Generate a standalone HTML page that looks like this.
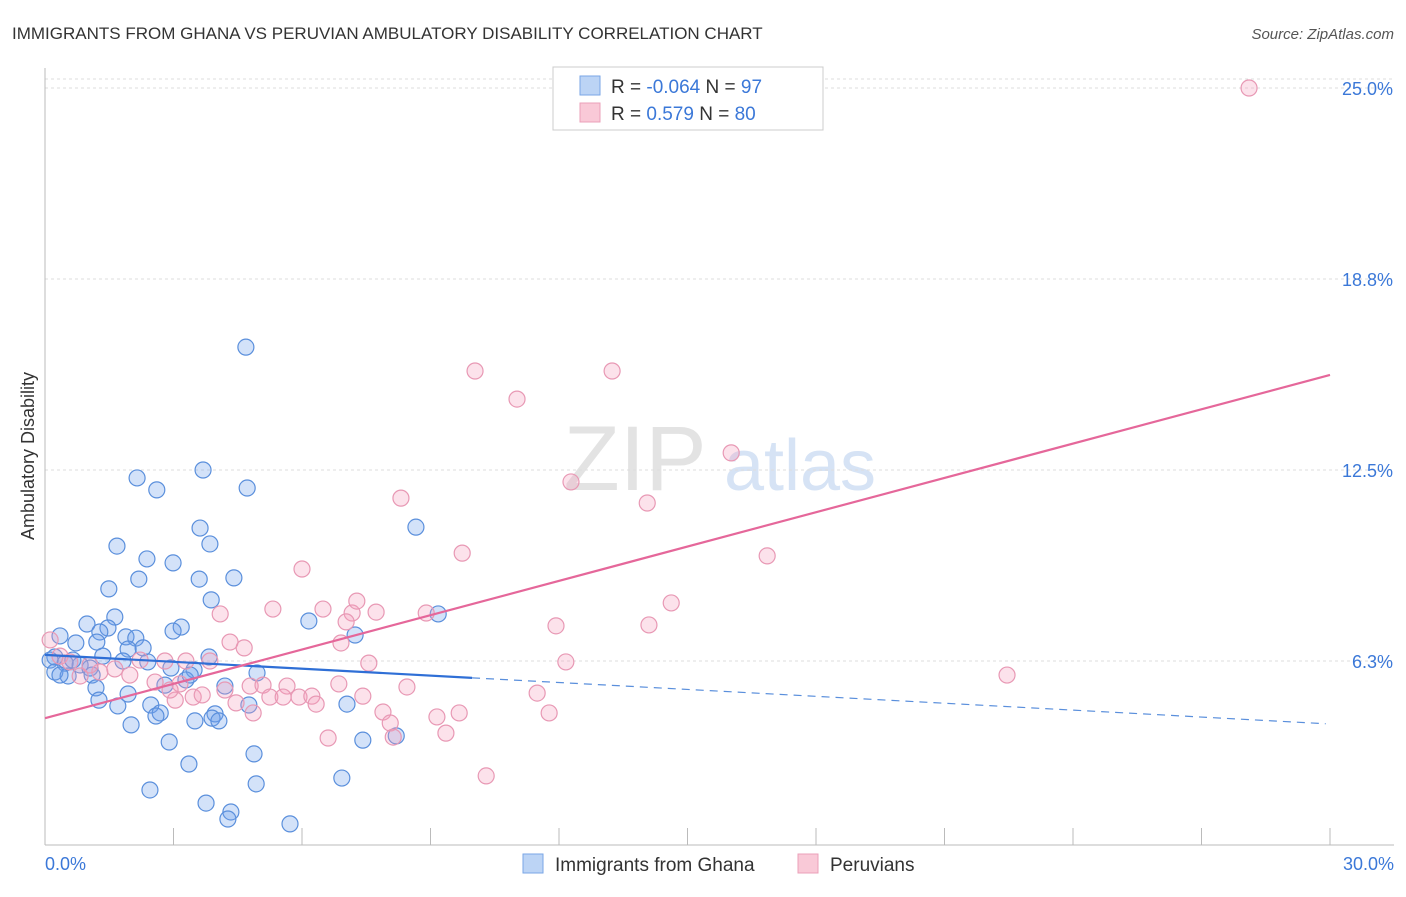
<!DOCTYPE html>
<html><head><meta charset="utf-8"><style>
body{margin:0;background:#fff;font-family:"Liberation Sans",sans-serif;}
svg text{font-family:"Liberation Sans",sans-serif;}
</style></head><body>
<svg id="chart" width="1406" height="892">
<text x="12" y="39" font-size="17" fill="#333">IMMIGRANTS FROM GHANA VS PERUVIAN AMBULATORY DISABILITY CORRELATION CHART</text>
<text x="1394" y="39" font-size="15" fill="#555" font-style="italic" text-anchor="end">Source: ZipAtlas.com</text>
<text x="34" y="456" font-size="18" fill="#333" text-anchor="middle" transform="rotate(-90 34 456)">Ambulatory Disability</text>
<g><text x="635" y="490" font-size="92" fill="#e3e3e3" font-family="Liberation Serif" text-anchor="middle">ZIP</text><text x="800" y="490" font-size="72" fill="#d6e3f5" text-anchor="middle">atlas</text></g>
<line x1="45" y1="79" x2="1394" y2="79" stroke="#ddd" stroke-dasharray="3,3"/>
<g id="grid"></g>
<line x1="45" y1="68" x2="45" y2="845" stroke="#bbb"/>
<line x1="45" y1="845" x2="1394" y2="845" stroke="#bbb"/>
<g id="xticks"></g>
<text x="45" y="870" font-size="18" fill="#3b78d8">0.0%</text>
<text x="1394" y="870" font-size="18" fill="#3b78d8" text-anchor="end">30.0%</text>
<g id="points"></g>
<g id="lines"></g>
<g>
<rect x="553" y="67" width="270" height="63" fill="#fff" stroke="#ccc"/>
<rect x="580" y="76" width="20" height="19" fill="#bcd4f5" stroke="#7aa6e6"/>
<rect x="580" y="103" width="20" height="19" fill="#f9c9d7" stroke="#eba0b9"/>
<text x="611" y="93" font-size="19" fill="#333">R = <tspan fill="#3b78d8">-0.064</tspan>   N = <tspan fill="#3b78d8">97</tspan></text>
<text x="611" y="120" font-size="19" fill="#333">R =   <tspan fill="#3b78d8">0.579</tspan>   N = <tspan fill="#3b78d8">80</tspan></text>
</g>
<g>
<rect x="523" y="854" width="20" height="19" fill="#bcd4f5" stroke="#7aa6e6"/>
<text x="555" y="871" font-size="19" fill="#333">Immigrants from Ghana</text>
<rect x="798" y="854" width="20" height="19" fill="#f9c9d7" stroke="#eba0b9"/>
<text x="830" y="871" font-size="19" fill="#333">Peruvians</text>
</g>
</svg>
<script>
const yTicks=[6.25,12.5,18.75,25];
const yTickLabels=["6.3%","12.5%","18.8%","25.0%"];
const xTicks=[0,3,6,9,12,15,18,21,24,27,30];
const ghanaX=[4.69,2.15,2.61,3.69,4.72,1.68,2.38,3.62,3.85,2.99,2.19,3.60,4.41,1.49,3.88,8.66,1.63,0.98,1.47,1.28,1.89,3.18,2.99,6.16,7.24,9.18,0.35,0.72,1.21,2.12,2.29,1.94,1.35,0.23,0.12,0.47,0.82,1.05,1.82,2.40,2.94,3.48,3.83,4.95,3.29,3.39,0.23,0.54,1.10,1.19,1.94,2.80,4.20,1.26,1.70,2.47,2.69,2.59,3.97,3.90,4.76,7.05,3.50,4.06,2.01,2.90,4.88,7.42,8.20,3.36,2.45,4.93,6.93,3.76,4.34,4.27,5.72,0.35,0.65];
const ghanaY=[16.52,12.24,11.85,12.50,11.91,10.01,9.59,10.60,10.08,9.46,8.93,8.93,8.97,8.61,8.25,10.63,7.69,7.46,7.33,7.20,7.04,7.36,7.23,7.56,7.10,7.79,7.07,6.84,6.87,7.00,6.68,6.64,6.41,6.38,6.28,6.18,6.12,6.02,6.25,6.22,6.02,5.96,6.38,5.86,5.63,5.79,5.89,5.76,5.79,5.37,5.17,5.46,5.43,4.97,4.78,4.81,4.55,4.45,4.52,4.38,4.81,4.84,4.29,4.29,4.16,3.60,3.21,3.66,3.80,2.88,2.03,2.23,2.42,1.60,1.31,1.08,0.92,5.79,6.28];
const peruX=[28.11,10.04,13.24,11.02,16.02,12.28,8.31,14.06,9.74,16.86,6.00,14.62,4.09,5.32,6.49,7.17,7.28,7.73,8.90,7.03,11.93,14.10,4.32,4.65,6.91,0.12,0.35,2.22,2.80,3.29,3.85,7.56,12.16,22.46,0.82,1.28,1.98,2.57,3.15,4.79,5.09,5.65,6.86,8.45,3.46,3.67,4.20,5.25,5.56,5.93,6.23,7.42,11.49,3.04,4.46,6.33,7.89,8.06,9.15,9.67,11.77,4.86,6.61,8.13,9.36,10.30,2.92,1.63,1.05,0.58];
const peruY=[25.0,15.74,15.74,14.82,13.06,12.11,11.58,11.42,9.78,9.69,9.26,8.15,7.79,7.95,7.95,7.82,8.21,7.85,7.82,7.53,7.40,7.43,6.87,6.68,6.84,6.94,6.41,6.28,6.25,6.25,6.25,6.18,6.22,5.79,5.76,5.89,5.79,5.56,5.50,5.43,5.46,5.43,5.50,5.40,5.07,5.14,5.30,5.07,5.07,5.07,5.10,5.10,5.20,4.97,4.88,4.84,4.58,4.22,4.42,4.55,4.55,4.55,3.73,3.76,3.89,2.49,5.30,5.99,6.12,6.22];
const ghanaTrend=[6.45,4.19];
const ghanaSolidEnd=9.97;
const peruTrend=[4.38,15.61];
const NS='http://www.w3.org/2000/svg';
function sx(v){return 45+v*1285/30;}
function sy(v){return 852-v*30.56;}
function mk(tag,attrs,parent){const e=document.createElementNS(NS,tag);for(const k in attrs)e.setAttribute(k,attrs[k]);parent.appendChild(e);return e;}
const grid=document.getElementById('grid');
yTicks.forEach((t,i)=>{
 const l=mk('line',{x1:45,x2:1394,y1:sy(t),y2:sy(t),stroke:'#ddd','stroke-dasharray':'3,3'},grid);
 
 
 const tx=mk('text',{x:1393,y:sy(t)+7,'font-size':18,fill:'#3b78d8','text-anchor':'end'},grid);
 tx.textContent=yTickLabels[i];
 
 
});
const xt=document.getElementById('xticks');
xTicks.forEach(t=>{
 const l=mk('line',{x1:sx(t),x2:sx(t),y1:828,y2:845,stroke:'#bbb'},xt);
 
 
});
const pts=document.getElementById('points');
ghanaX.forEach((x,i)=>{
 const c=mk('circle',{cx:sx(x),cy:sy(ghanaY[i]),r:8,fill:'rgba(110,160,235,0.3)',stroke:'#5a8fdc','stroke-width':1.2},pts);
 
 
});
peruX.forEach((x,i)=>{
 const c=mk('circle',{cx:sx(x),cy:sy(peruY[i]),r:8,fill:'rgba(245,160,190,0.3)',stroke:'#e898b4','stroke-width':1.2},pts);
 
 
});
const ln=document.getElementById('lines');
function gy(x){return ghanaTrend[0]+(ghanaTrend[1]-ghanaTrend[0])*x/30;}
const g1=mk('line',{x1:sx(0),y1:sy(gy(0)),x2:sx(ghanaSolidEnd),y2:sy(gy(ghanaSolidEnd)),stroke:'#2f6fd6','stroke-width':2.2},ln);


const g2=mk('line',{x1:sx(ghanaSolidEnd),y1:sy(gy(ghanaSolidEnd)),x2:sx(29.9),y2:sy(gy(29.9)),stroke:'#5a8fdc','stroke-width':1.2,'stroke-dasharray':'8,6'},ln);


const p1=mk('line',{x1:sx(0),y1:sy(peruTrend[0]),x2:sx(30),y2:sy(peruTrend[1]),stroke:'#e5679a','stroke-width':2.2},ln);


</script>
</body></html>
